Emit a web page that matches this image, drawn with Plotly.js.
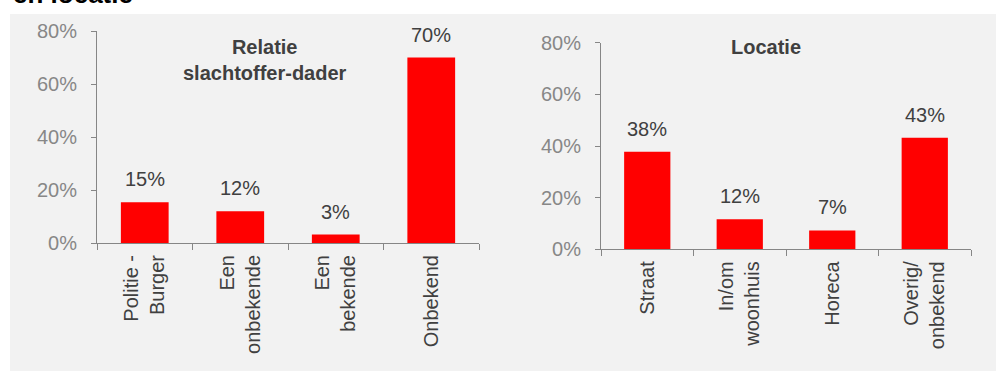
<!DOCTYPE html>
<html>
<head>
<meta charset="utf-8">
<script src="https://cdn.plot.ly/plotly-3.0.1.min.js"></script>
<style>
html,body{margin:0;padding:0;background:#fff;overflow:hidden;}
#chart{width:996px;height:371px;}
</style>
</head>
<body>
<div id="chart"></div>
<script>
// Data
const relatieCats = ["Politie -<br>Burger", "Een<br>onbekende", "Een<br>bekende", "Onbekend"];
const relatieVals = [15.4, 12.0, 3.2, 70.0];
const locatieCats = ["Straat", "In/om<br>woonhuis", "Horeca", "Overig/<br>onbekend"];
const locatieVals = [37.8, 11.6, 7.3, 43.2];
const yTicks = [0, 20, 40, 60, 80];
const yTickText = ["0%", "20%", "40%", "60%", "80%"];
const relatieTitle = "Relatie<br>slachtoffer-dader";
const locatieTitle = "Locatie";
const pageTitle = "en locatie";

const W = 996, H = 371;
const FONT = "'Liberation Sans', Arial, sans-serif";
const RED = "#ff0000";
const AXIS = "#868686";

const px = v => v / W;
const py = v => (H - v) / H;

const traces = [
  {type: "bar", x: relatieCats, y: relatieVals, xaxis: "x", yaxis: "y",
   marker: {color: RED, line: {width: 0}}, width: 0.5, hoverinfo: "none"},
  {type: "bar", x: locatieCats, y: locatieVals, xaxis: "x2", yaxis: "y2",
   marker: {color: RED, line: {width: 0}}, width: 0.5, hoverinfo: "none"}
];

function xAxis(domain, anchor) {
  return {
    domain: domain, anchor: anchor, type: "category",
    range: [-0.5, 3.5],
    showline: true, linecolor: AXIS, linewidth: 1,
    ticks: "outside", tickson: "boundaries", ticklen: 6, tickcolor: AXIS, tickwidth: 1,
    tickangle: -90, ticklabelstandoff: 3,
    tickfont: {family: FONT, size: 20, color: "#404040"},
    showgrid: false, zeroline: false, fixedrange: true
  };
}
function yAxis(domain, anchor) {
  return {
    domain: domain, anchor: anchor, range: [0, 80],
    tickvals: yTicks, ticktext: yTickText,
    showline: true, linecolor: AXIS, linewidth: 1,
    ticks: "outside", ticklen: 5, tickcolor: AXIS, tickwidth: 1,
    ticklabelstandoff: 10,
    tickfont: {family: FONT, size: 20, color: "#878787"},
    showgrid: false, zeroline: false, fixedrange: true
  };
}

const annotations = [];
relatieCats.forEach((c, i) => annotations.push({
  x: c, y: relatieVals[i], xref: "x", yref: "y", text: Math.round(relatieVals[i]) + "%",
  showarrow: false, yanchor: "bottom", yshift: 10,
  font: {family: FONT, size: 20, color: "#404040"}
}));
locatieCats.forEach((c, i) => annotations.push({
  x: c, y: locatieVals[i], xref: "x2", yref: "y2", text: Math.round(locatieVals[i]) + "%",
  showarrow: false, yanchor: "bottom", yshift: 10,
  font: {family: FONT, size: 20, color: "#404040"}
}));
annotations.push({
  x: px(265), y: py(60), xref: "paper", yref: "paper", text: "<b>" + relatieTitle + "</b>",
  showarrow: false, xanchor: "center", yanchor: "middle",
  font: {family: FONT, size: 20, color: "#404040"}
});
annotations.push({
  x: px(766), y: py(47), xref: "paper", yref: "paper", text: "<b>" + locatieTitle + "</b>",
  showarrow: false, xanchor: "center", yanchor: "middle",
  font: {family: FONT, size: 20, color: "#404040"}
});
annotations.push({
  x: px(11), y: py(11), xref: "paper", yref: "paper", text: "<b>" + pageTitle + "</b>",
  showarrow: false, xanchor: "left", yanchor: "bottom",
  font: {family: FONT, size: 26, color: "#000000"}
});

const layout = {
  width: W, height: H,
  margin: {l: 0, r: 0, t: 0, b: 0, pad: 0},
  paper_bgcolor: "#ffffff", plot_bgcolor: "rgba(0,0,0,0)",
  showlegend: false, bargap: 0.5,
  xaxis: xAxis([px(97), px(479)], "y"),
  yaxis: yAxis([py(243), py(31)], "x"),
  xaxis2: xAxis([px(601), px(971)], "y2"),
  yaxis2: yAxis([py(249.3), py(42.7)], "x2"),
  shapes: [{type: "rect", xref: "paper", yref: "paper", layer: "below",
    x0: px(10), x1: 1, y0: 0, y1: py(14), fillcolor: "#f2f2f2", line: {width: 0}}],
  annotations: annotations
};

Plotly.newPlot("chart", traces, layout, {displayModeBar: false, staticPlot: true});
</script>
</body>
</html>
